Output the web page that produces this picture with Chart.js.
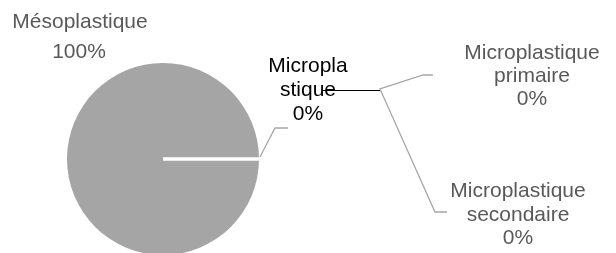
<!DOCTYPE html>
<html lang="fr">
<head>
    <meta charset="UTF-8">
    <title>Répartition des plastiques</title>
    <script src="https://cdn.jsdelivr.net/npm/chart.js@4/dist/chart.umd.min.js"></script>
    <style>
        html, body { margin: 0; padding: 0; background: #fff; overflow: hidden; }
    </style>
</head>
<body>
    <canvas id="pie" width="616" height="260"></canvas>
    <script>
        // main pie
        const categories = ['Mésoplastique', 'Microplastique'];
        const values = [100, 0];
        // secondary pie (Microplastique split)
        const subCategories = ['Microplastique primaire', 'Microplastique secondaire'];
        const subValues = [0, 0];

        const FONT = '21px "Liberation Sans", Arial, sans-serif';
        const GREY_TEXT = '#595959';
        const LINE_GREY = '#a6a6a6';

        function pct(v, list) {
            const total = list.reduce((a, b) => a + b, 0);
            return (total ? Math.round(v / total * 100) : 0) + '%';
        }

        function lines(ctx, arr, cx, baseline, step, color) {
            ctx.fillStyle = color;
            arr.forEach((t, i) => ctx.fillText(t, cx, baseline + i * step));
        }

        const labelsPlugin = {
            id: 'excelLabels',
            afterDatasetsDraw(chart) {
                const ctx = chart.ctx;
                const arc = chart.getDatasetMeta(0).data[0];
                const cx = arc.x, cy = arc.y, r = arc.outerRadius;
                const edge = { x: cx + r * Math.cos(arc.startAngle), y: cy + r * Math.sin(arc.startAngle) };

                ctx.save();
                // zero slice border
                ctx.strokeStyle = '#fff';
                ctx.lineWidth = 3.5;
                ctx.beginPath();
                ctx.moveTo(cx, cy);
                ctx.lineTo(edge.x, edge.y);
                ctx.stroke();

                // leader lines
                ctx.strokeStyle = LINE_GREY;
                ctx.lineWidth = 1.3;
                ctx.beginPath();
                ctx.moveTo(edge.x + 1, edge.y - 2);
                ctx.lineTo(275, 128);
                ctx.lineTo(288, 128);
                ctx.moveTo(433, 75);
                ctx.lineTo(423, 75);
                ctx.lineTo(380, 89);
                ctx.lineTo(435, 212);
                ctx.lineTo(447, 212);
                ctx.stroke();

                ctx.font = FONT;
                ctx.textAlign = 'center';
                ctx.textBaseline = 'alphabetic';

                lines(ctx, [categories[0]], 80, 28, 0, GREY_TEXT);
                lines(ctx, [pct(values[0], values)], 79, 58, 0, GREY_TEXT);
                lines(ctx, ['Micropla', 'stique', pct(values[1], values)], 308, 72, 24, '#000');

                // series line to secondary pie, over the label
                ctx.strokeStyle = '#000';
                ctx.lineWidth = 1.2;
                ctx.beginPath();
                ctx.moveTo(322, 90.5);
                ctx.lineTo(380, 90.5);
                ctx.stroke();

                lines(ctx, ['Microplastique', 'primaire', pct(subValues[0], [1])], 532, 59, 23, GREY_TEXT);
                lines(ctx, ['Microplastique', 'secondaire', pct(subValues[1], [1])], 518, 197, 23.5, GREY_TEXT);
                ctx.restore();
            }
        };

        new Chart(document.getElementById('pie'), {
            type: 'pie',
            data: {
                labels: categories,
                datasets: [{
                    data: values,
                    backgroundColor: ['#a5a5a5', '#a5a5a5'],
                    borderWidth: 0
                }]
            },
            options: {
                responsive: false,
                animation: false,
                rotation: 90,
                layout: { padding: { top: 63, bottom: 5, left: 67, right: 357 } },
                plugins: {
                    legend: { display: false },
                    tooltip: { enabled: false }
                }
            },
            plugins: [labelsPlugin]
        });
    </script>
</body>
</html>
